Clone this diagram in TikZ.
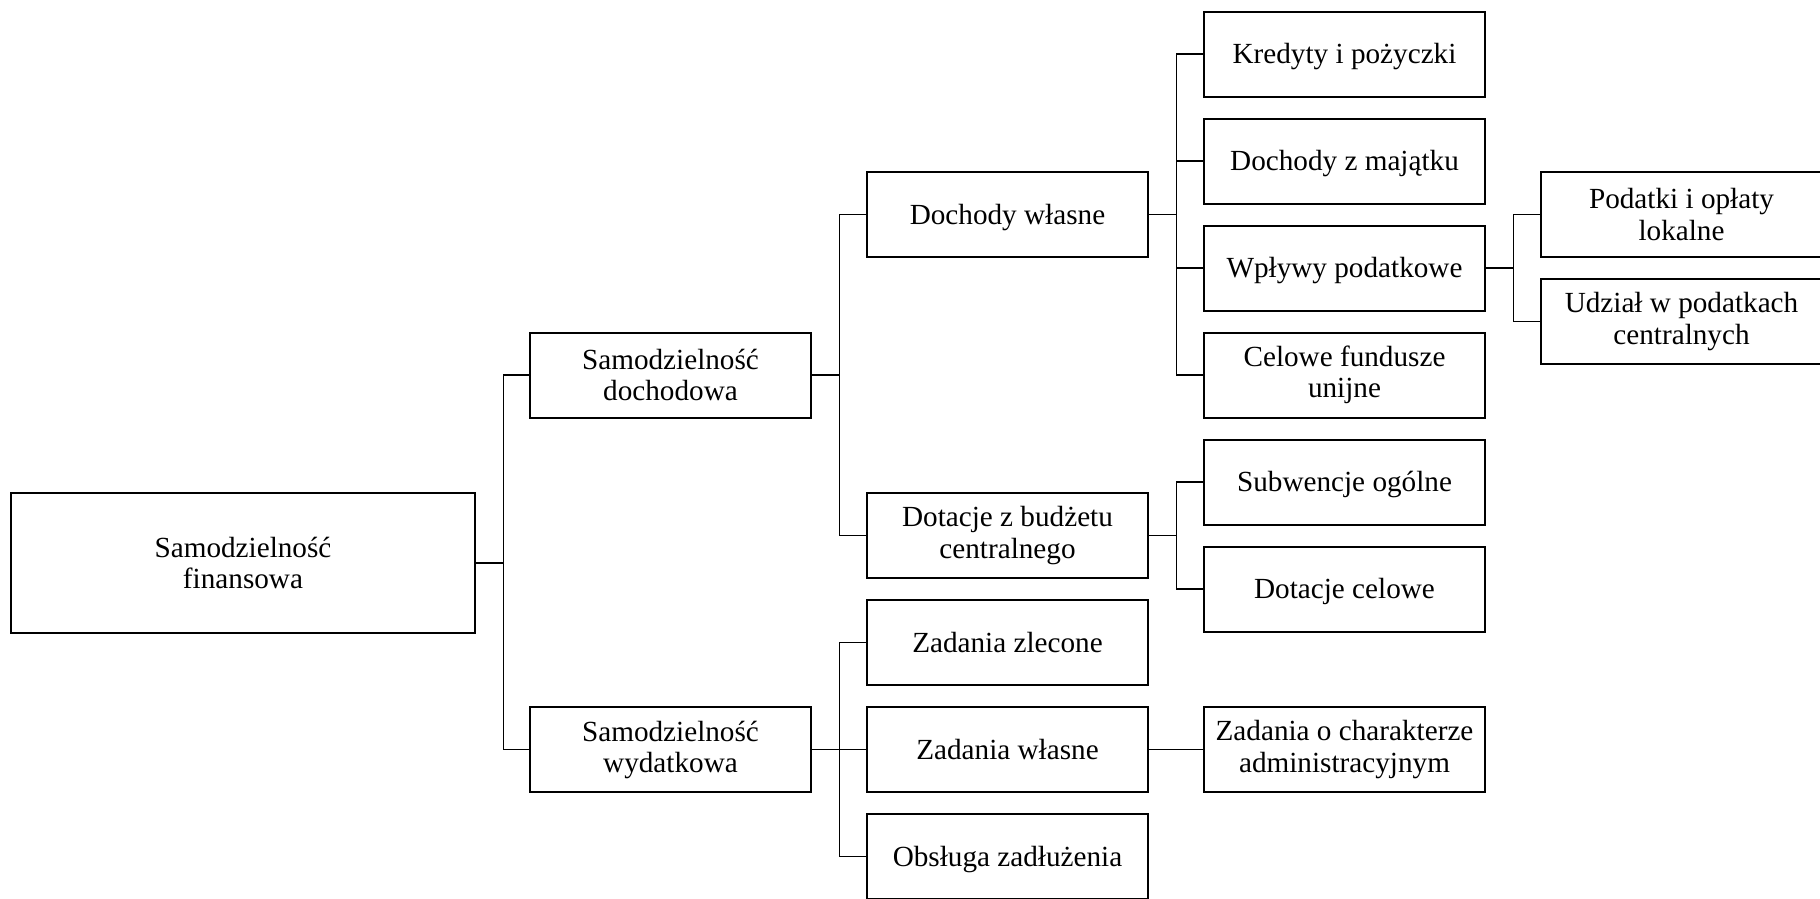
\documentclass[tikz,border=0pt]{standalone}
\usepackage{fontspec}
\setmainfont{Liberation Serif}
\begin{document}
\begin{tikzpicture}[x=0.5pt,y=-0.5pt,
  box/.style={draw, line width=1pt, minimum width=140.5pt, minimum height=42.5pt,
    inner sep=0pt, align=center, font=\fontsize{14.6}{15.6}\selectfont},
  oneline/.style={box, text height=12.4pt, text depth=3pt},
  rootbox/.style={box, minimum width=232pt, minimum height=69.8pt},
  link/.style={draw, line width=0.85pt}]
\useasboundingbox (0,0) rectangle (1820,899);

% root
\node[rootbox] (root) at (243,562.8) {Samodzielność\\finansowa};

% first level
\node[box] (dochodowa) at (670.5,375.1) {Samodzielność\\dochodowa};
\node[box] (wydatkowa) at (670.5,749.6) {Samodzielność\\wydatkowa};

% second level
\node[oneline] (wlasne)  at (1007.5,214.6) {Dochody własne};
\node[box]     (dotacje) at (1007.5,535.6) {Dotacje z budżetu\\centralnego};
\node[oneline] (zlecone) at (1007.5,642.6) {Zadania zlecone};
\node[oneline] (zwlasne) at (1007.5,749.6) {Zadania własne};
\node[oneline] (obsluga) at (1007.5,856.6) {Obsługa zadłużenia};

% third level
\node[oneline] (kredyty)   at (1344.5,54.1)  {Kredyty i pożyczki};
\node[oneline] (majatek)   at (1344.5,161.1) {Dochody z majątku};
\node[oneline] (wplywy)    at (1344.5,268.1) {Wpływy podatkowe};
\node[box]     (celowe)    at (1344.5,375.1) {Celowe fundusze\\unijne};
\node[oneline] (subwencje) at (1344.5,482.1) {Subwencje ogólne};
\node[oneline] (dotcelowe) at (1344.5,589.1) {Dotacje celowe};
\node[box]     (admin)     at (1344.5,749.6) {Zadania o charakterze\\administracyjnym};

% fourth level
\node[box] (lokalne) at (1681.5,214.6) {Podatki i opłaty\\lokalne};
\node[box] (udzial)  at (1681.5,321.6) {Udział w podatkach\\centralnych};

% connectors
\foreach \p/\c in {root/dochodowa, root/wydatkowa,
                   dochodowa/wlasne, dochodowa/dotacje,
                   wydatkowa/zlecone, wydatkowa/zwlasne, wydatkowa/obsluga,
                   wlasne/kredyty, wlasne/majatek, wlasne/wplywy, wlasne/celowe,
                   dotacje/subwencje, dotacje/dotcelowe,
                   wplywy/lokalne, wplywy/udzial}
  \path[link] (\p.east) -- ++(27.5,0) |- (\c.west);
\path[link] (zwlasne.east) -- (admin.west);
\end{tikzpicture}
\end{document}
